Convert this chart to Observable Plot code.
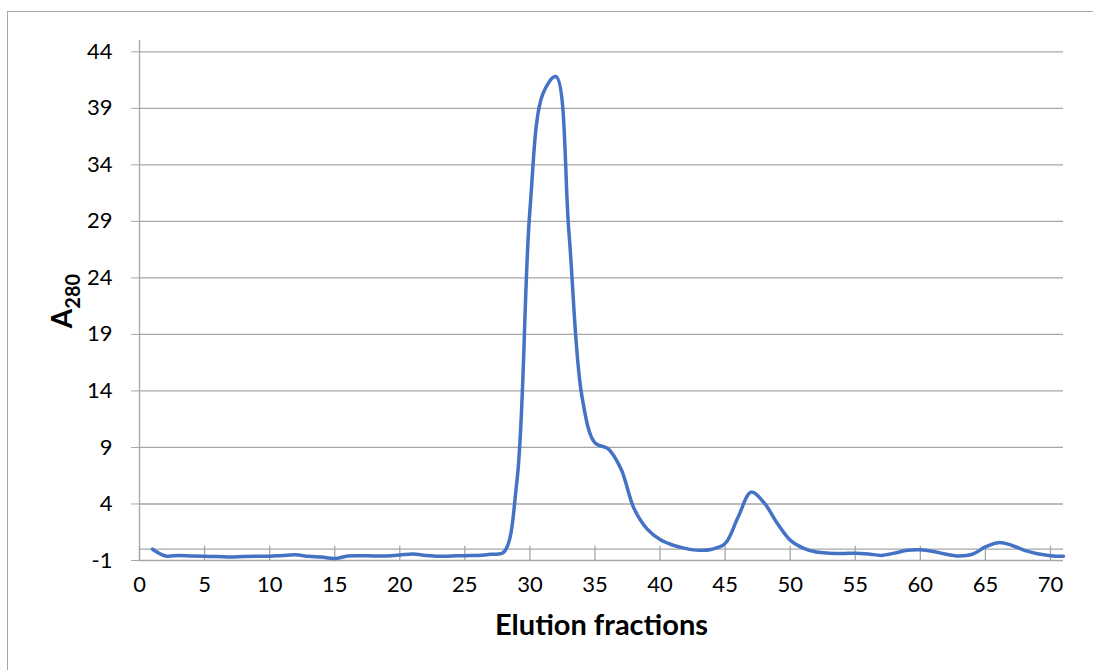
<!DOCTYPE html>
<html><head><meta charset="utf-8">
<script src="https://cdn.jsdelivr.net/npm/d3@7"></script>
<script src="https://cdn.jsdelivr.net/npm/@observablehq/plot@0.6"></script>
<style>
body{margin:0;background:#fff;}
#wrap{position:relative;width:1093px;height:670px;overflow:hidden;}
#frame{position:absolute;left:7px;top:11px;width:1200px;height:800px;border:1px solid #a6a6a6;}
#chart{position:absolute;left:0;top:0;}
</style></head><body>
<div id="wrap"><div id="frame"></div><div id="chart"></div></div>
<script>
const fractions = [1,2,3,4,5,6,7,8,9,10,11,12,13,14,15,16,17,18,19,20,21,22,23,24,25,26,27,28,29,30,31,32,33,34,35,36,37,38,39,40,41,42,43,44,45,46,47,48,49,50,51,52,53,54,55,56,57,58,59,60,61,62,63,64,65,66,67,68,69,70,71];
const a280 = [0.0,-0.6,-0.55,-0.6,-0.63,-0.65,-0.7,-0.65,-0.63,-0.63,-0.55,-0.5,-0.63,-0.7,-0.82,-0.6,-0.58,-0.6,-0.6,-0.52,-0.42,-0.55,-0.63,-0.6,-0.57,-0.55,-0.45,-0.25,6.0,30.0,40.3,41.8,28.0,13.5,9.4,8.9,7.1,3.6,1.8,0.85,0.35,0.05,-0.1,0.0,0.5,2.85,5.05,4.1,2.3,0.8,0.1,-0.25,-0.35,-0.38,-0.35,-0.42,-0.55,-0.35,-0.1,-0.05,-0.2,-0.45,-0.6,-0.45,0.2,0.58,0.35,-0.1,-0.4,-0.57,-0.63];
const xTicks = [0,5,10,15,20,25,30,35,40,45,50,55,60,65,70];
const yTicks = [-1,4,9,14,19,24,29,34,39,44];
const xTitle = "Elution fractions";
const yTitleMain = "A";
const yTitleSub = "280";

const data = fractions.map((f, i) => ({fraction: f, a280: a280[i]}));
const grid = "#a6a6a6";
const plot = Plot.plot({
  width: 1093, height: 670,
  marginLeft: 139, marginRight: 30, marginTop: 40, marginBottom: 110,
  style: {fontFamily: "Lato", background: "transparent", color: "#000"},
  x: {domain: [0, 71]},
  y: {domain: [-1, 45]},
  marks: [
    Plot.ruleY(yTicks, {stroke: grid, strokeWidth: 1.3}),
    Plot.ruleY([0], {stroke: grid, strokeWidth: 1.3}),
    Plot.ruleX(xTicks, {y1: -1, y2: 0, insetBottom: 3, stroke: grid, strokeWidth: 1.3}),
    Plot.ruleX([0], {stroke: grid, strokeWidth: 1.3}),
    Plot.axisY(yTicks, {tickSize: 8, tickPadding: 19, stroke: grid, fill: "#000", fontSize: 22, label: null, tickFormat: d => String(d)}),
    Plot.axisX(xTicks, {tickSize: 0, tickPadding: 16, fill: "#000", fontSize: 22, label: null, tickFormat: d => String(d)}),
    Plot.lineY(data, {x: "fraction", y: "a280", curve: "catmull-rom", stroke: "#4472C4", strokeWidth: 3.5}),
    Plot.text([xTitle], {frameAnchor: "bottom", dy: 74, fontWeight: "bold", fontSize: 29, fill: "#000"})
  ]
});
document.getElementById("chart").appendChild(plot);
const svg = d3.select(plot);
const t = svg.append("text")
  .attr("transform", "translate(72,301) rotate(-90)")
  .attr("text-anchor", "middle")
  .attr("font-family", "Lato")
  .attr("font-weight", "bold")
  .attr("font-size", 28)
  .attr("fill", "#000");
t.append("tspan").text(yTitleMain);
t.append("tspan").attr("font-size", 20).attr("dy", 8).text(yTitleSub);
</script>
</body></html>
